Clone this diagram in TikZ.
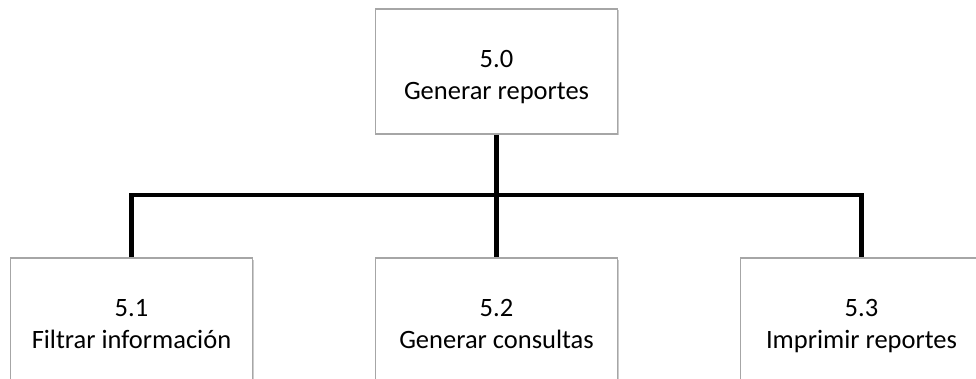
\documentclass[tikz,border=0pt]{standalone}
\usepackage{fontspec}
\setmainfont{Carlito}
\usetikzlibrary{shadows}

% struts so that every box sets its two lines at the same height
\newcommand{\firstln}{\rule[-9.6pt]{0pt}{44pt}}
\newcommand{\secondln}{\rule[-9.6pt]{0pt}{32pt}}

\tikzset{
  proc/.style={draw=gray!70, line width=1.2pt, fill=white, minimum width=242pt,
    minimum height=125pt, align=center, text=black, inner sep=0pt,
    font=\fontsize{26.5}{32}\selectfont,
    drop shadow={shadow xshift=1.5pt, shadow yshift=-1.5pt, opacity=.4}},
  tree/.style={line width=4.5pt, line join=miter}
}

\begin{document}
\begin{tikzpicture}[x=1pt,y=1pt]
    \useasboundingbox (0,0) rectangle (976,378);
    \clip (0,0) rectangle (976,378);
    % parent process
    \node[proc] (gen) at (496.5,306.5) {\firstln 5.0\\\secondln Generar reportes};
    % sub processes
    \node[proc] (filt) at (131.5,57.5) {\firstln 5.1\\\secondln Filtrar información};
    \node[proc] (cons) at (496.5,57.5) {\firstln 5.2\\\secondln Generar consultas};
    \node[proc] (impr) at (861.5,57.5) {\firstln 5.3\\\secondln Imprimir reportes};
    % tree connectors
    \coordinate (jn) at (496.5,183);
    \draw[tree] (gen.south) -- (jn);
    \draw[tree] (filt.north) |- (jn) -| (impr.north);
    \draw[tree] (jn) -- (cons.north);
\end{tikzpicture}
\end{document}
